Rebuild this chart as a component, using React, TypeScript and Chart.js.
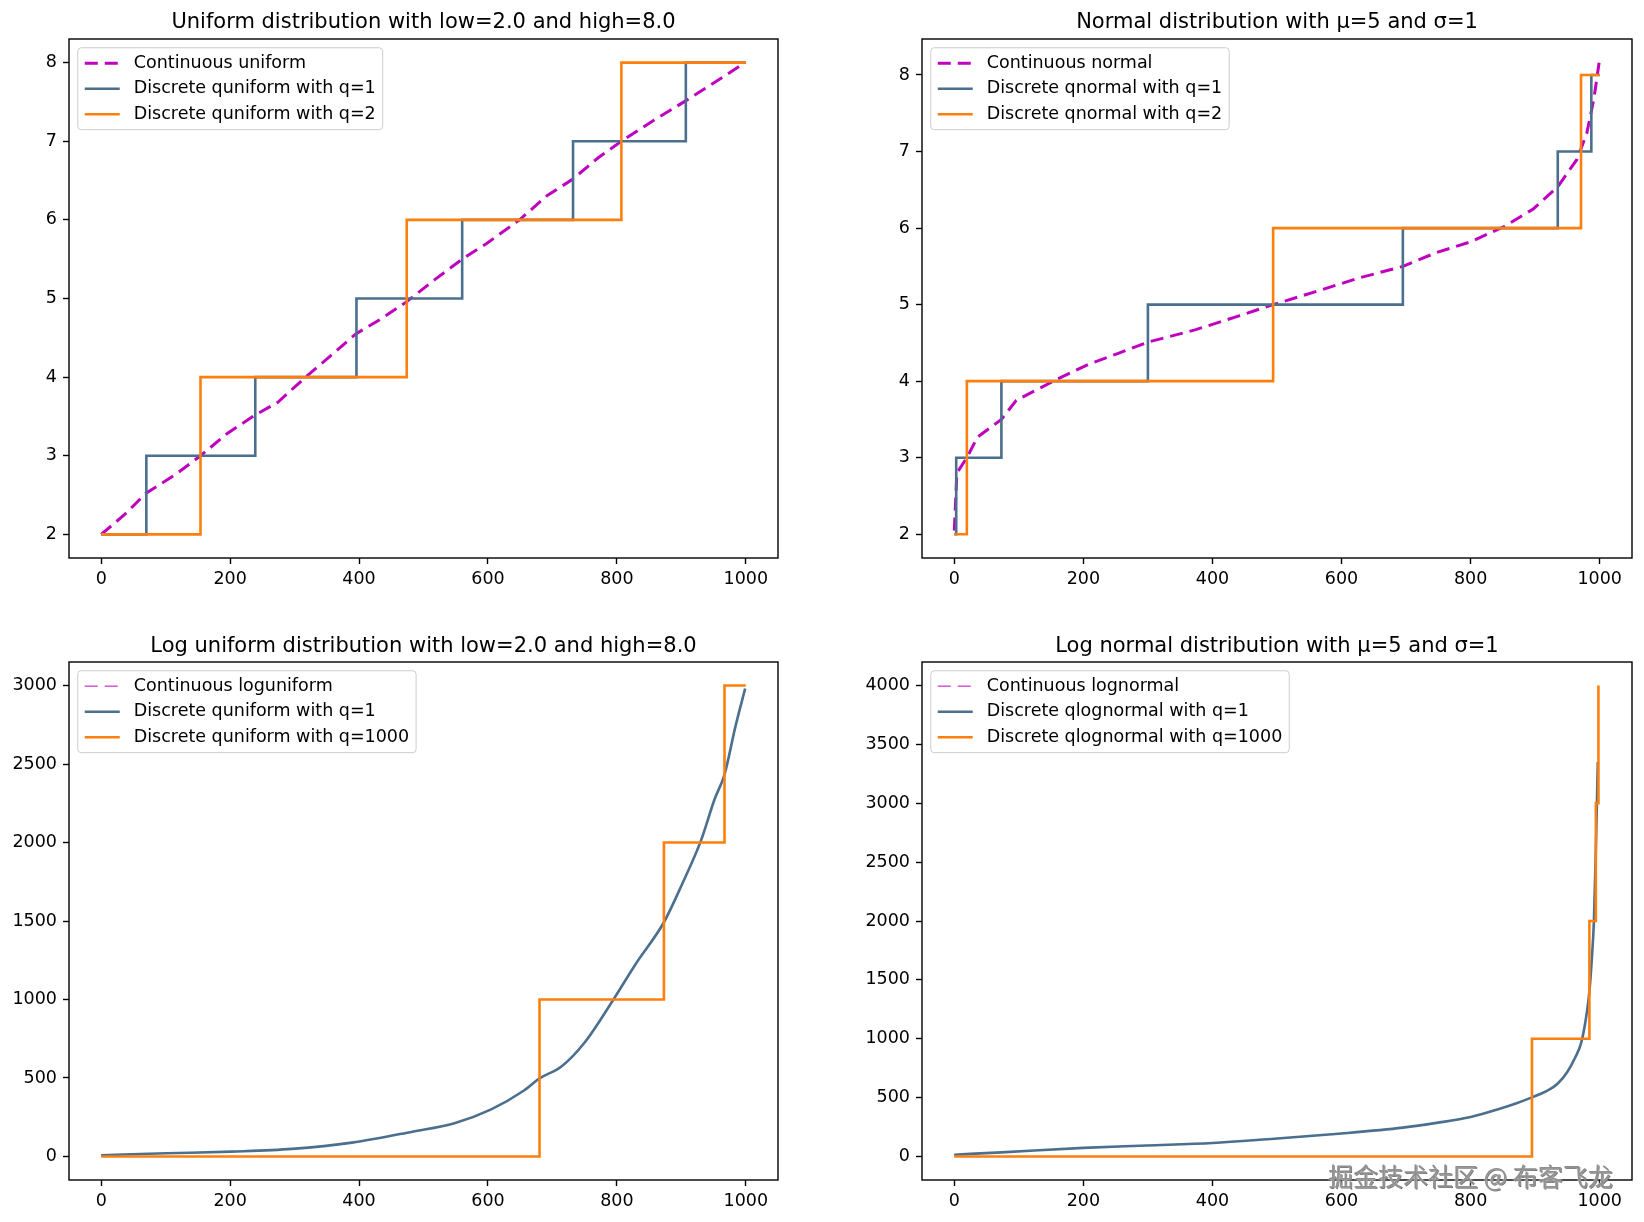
import React, { useEffect, useRef } from 'react';
import { Chart, registerables } from 'chart.js';

Chart.register(...registerables);

const FONT = '"DejaVu Sans", "Liberation Sans", sans-serif';
const MAGENTA = '#bf00bf';
const BLUE = '#4b6f8e';
const ORANGE = '#ff7f0e';

// ---------- shared ticks ----------
const xTicks = [0, 200, 400, 600, 800, 1000];
const yTicksSmall = [2, 3, 4, 5, 6, 7, 8];
const yTicksLogUniform = [0, 500, 1000, 1500, 2000, 2500, 3000];
const yTicksLogNormal = [0, 500, 1000, 1500, 2000, 2500, 3000, 3500, 4000];

// ---------- Uniform (low=2, high=8) ----------
const uniformX = [0, 36, 69, 115, 154, 195, 239, 274, 317, 353, 395, 432, 474, 519, 560, 598, 649, 692, 732, 771, 807, 858, 906, 952, 999];
const uniformCont = [2.0, 2.25, 2.52, 2.76, 3.0, 3.28, 3.52, 3.68, 4.0, 4.25, 4.55, 4.73, 4.96, 5.25, 5.5, 5.7, 6.0, 6.31, 6.52, 6.79, 7.0, 7.27, 7.51, 7.75, 8.0];
const uniformQ1X = [0, 70, 239, 396, 560, 732, 907, 1000];
const uniformQ1Y = [2, 3, 4, 5, 6, 7, 8, 8];
const uniformQ2X = [0, 154, 474, 807, 1000];
const uniformQ2Y = [2, 4, 6, 8, 8];

// ---------- Normal (mu=5, sigma=1) ----------
const normalX = [0, 4, 19.5, 36, 73, 96, 163, 208, 253, 300, 373, 440, 494, 560, 628, 695, 747, 800, 852, 897, 935, 965, 980, 991, 999];
const normalCont = [2.05, 2.8, 3.0, 3.27, 3.5, 3.75, 4.04, 4.22, 4.36, 4.51, 4.67, 4.85, 5.0, 5.17, 5.35, 5.5, 5.68, 5.82, 6.02, 6.25, 6.54, 6.9, 7.24, 7.69, 8.16];
const normalQ1X = [0, 3, 73, 300, 695, 935, 987, 1000];
const normalQ1Y = [2, 3, 4, 5, 6, 7, 8, 8];
const normalQ2X = [0, 19.5, 494, 971, 1000];
const normalQ2Y = [2, 4, 6, 8, 8];

// ---------- Log uniform (low=2, high=8) ----------
const logUniformX = [0, 101, 202, 296, 389, 483, 548, 605, 656, 680, 714, 750, 793, 829, 873, 901, 930, 952, 967, 984, 999];
const logUniformY = [8, 20, 31, 48, 88, 158, 212, 300, 420, 497, 573, 726, 989, 1225, 1492, 1733, 2007, 2280, 2433, 2740, 2980];
const logUniformQ1000X = [0, 680, 873, 967, 1000];
const logUniformQ1000Y = [0, 1000, 2000, 3000, 3000];

// ---------- Log normal (mu=5, sigma=1) ----------
const logNormalX = [0, 73, 200, 298, 400, 485, 600, 695, 747, 800, 845, 870, 895, 915, 935, 950, 962, 971, 978, 984, 988, 991, 994, 997];
const logNormalY = [15, 35, 73, 93, 114, 146, 195, 245, 285, 335, 405, 450, 502, 548, 620, 720, 840, 960, 1150, 1400, 1700, 2000, 2600, 3350];
const logNormalQ1000X = [0, 895, 984, 994, 998];
const logNormalQ1000Y = [0, 1000, 2000, 3000, 4000];

const pts = (xs: number[], ys: number[]) => xs.map((x, i) => ({ x, y: ys[i] }));

const framePlugin = {
  id: 'mplFrame',
  afterDatasetsDraw(chart: any) {
    const { ctx, chartArea: a } = chart;
    ctx.save();
    ctx.strokeStyle = '#000';
    ctx.lineWidth = 1.4;
    ctx.strokeRect(a.left, a.top, a.right - a.left, a.bottom - a.top);
    ctx.restore();
  },
};

const legendPlugin = {
  id: 'mplLegend',
  afterDraw(chart: any) {
    const { ctx, chartArea: a } = chart;
    const ds = chart.data.datasets;
    const fs = 17.5;
    ctx.save();
    ctx.font = `${fs}px ${FONT}`;
    const textW = Math.max(...ds.map((d: any) => ctx.measureText(d.label).width));
    const pad = 7, handleLen = 35, handleGap = 14, rowH = 16.8, rowGap = 8.75;
    const x0 = a.left + 8.75, y0 = a.top + 8.75;
    const w = pad + handleLen + handleGap + textW + pad;
    const h = pad * 2 + ds.length * rowH + (ds.length - 1) * rowGap;
    ctx.beginPath();
    ctx.roundRect(x0, y0, w, h, 3.5);
    ctx.fillStyle = 'rgba(255,255,255,0.8)';
    ctx.fill();
    ctx.strokeStyle = '#cccccc';
    ctx.lineWidth = 1;
    ctx.stroke();
    ds.forEach((d: any, i: number) => {
      const cy = y0 + pad + i * (rowH + rowGap) + rowH / 2;
      ctx.beginPath();
      ctx.setLineDash(d.borderDash || []);
      ctx.lineWidth = d.borderWidth;
      ctx.strokeStyle = d.borderColor;
      ctx.moveTo(x0 + pad, cy);
      ctx.lineTo(x0 + pad + handleLen, cy);
      ctx.stroke();
      ctx.setLineDash([]);
      ctx.fillStyle = '#000';
      ctx.textBaseline = 'middle';
      ctx.textAlign = 'left';
      ctx.fillText(d.label, x0 + pad + handleLen + handleGap, cy);
    });
    ctx.restore();
  },
};

type PanelCfg = {
  left: number;
  top: number;
  title: string;
  titlePadTop: number;
  titlePadBottom: number;
  yWidth: number;
  xHeight: number;
  padRight: number;
  yMin: number;
  yMax: number;
  yTicks: number[];
  contWidth: number;
  smooth: boolean;
  labels: string[];
  cont: { x: number; y: number }[];
  q1: { x: number; y: number }[];
  q1Stepped: boolean;
  q2: { x: number; y: number }[];
};

function buildConfig(c: PanelCfg): any {
  const tickFont = { family: FONT, size: 17.5 };
  const grid = { display: true, drawOnChartArea: false, drawTicks: true, tickLength: 6, tickWidth: 1.4, tickColor: '#000' };
  const curveMode = c.smooth ? { cubicInterpolationMode: 'monotone' } : { tension: 0 };
  return {
    type: 'line',
    data: {
      datasets: [
        { label: c.labels[0], data: c.cont, borderColor: MAGENTA, borderWidth: c.contWidth, borderDash: [13, 7], pointRadius: 0, fill: false, ...curveMode, order: 3 },
        { label: c.labels[1], data: c.q1, borderColor: BLUE, borderWidth: 2.6, stepped: c.q1Stepped ? 'before' : false, pointRadius: 0, fill: false, ...curveMode, order: 2 },
        { label: c.labels[2], data: c.q2, borderColor: ORANGE, borderWidth: 2.6, stepped: 'before', pointRadius: 0, fill: false, tension: 0, order: 1 },
      ],
    },
    options: {
      animation: false,
      responsive: false,
      events: [],
      layout: { padding: { left: 0, right: c.padRight, top: 0, bottom: 0 } },
      plugins: {
        legend: { display: false },
        tooltip: { enabled: false },
        title: {
          display: true,
          text: c.title,
          fullSize: false,
          color: '#000',
          font: { family: FONT, size: 21, weight: 'normal', lineHeight: 1.2 },
          padding: { top: c.titlePadTop, bottom: c.titlePadBottom },
        },
      },
      scales: {
        x: {
          type: 'linear',
          min: -50,
          max: 1050,
          afterBuildTicks: (s: any) => { s.ticks = xTicks.map((v) => ({ value: v })); },
          afterFit: (s: any) => { s.height = c.xHeight; },
          ticks: { callback: (v: any) => String(v), font: tickFont, color: '#000', padding: 5, maxRotation: 0, autoSkip: false },
          grid,
          border: { display: false },
        },
        y: {
          type: 'linear',
          min: c.yMin,
          max: c.yMax,
          afterBuildTicks: (s: any) => { s.ticks = c.yTicks.map((v) => ({ value: v })); },
          afterFit: (s: any) => { s.width = c.yWidth; },
          ticks: { callback: (v: any) => String(v), font: tickFont, color: '#000', padding: 6, autoSkip: false },
          grid,
          border: { display: false },
        },
      },
    },
    plugins: [framePlugin, legendPlugin],
  };
}

const panels: PanelCfg[] = [
  {
    left: 0, top: 0,
    title: 'Uniform distribution with low=2.0 and high=8.0',
    titlePadTop: 10.4, titlePadBottom: 3.4, yWidth: 69, xHeight: 53, padRight: 44,
    yMin: 1.7, yMax: 8.3, yTicks: yTicksSmall, contWidth: 3, smooth: false,
    labels: ['Continuous uniform', 'Discrete quniform with q=1', 'Discrete quniform with q=2'],
    cont: pts(uniformX, uniformCont), q1: pts(uniformQ1X, uniformQ1Y), q1Stepped: true, q2: pts(uniformQ2X, uniformQ2Y),
  },
  {
    left: 822, top: 0,
    title: 'Normal distribution with μ=5 and σ=1',
    titlePadTop: 10.4, titlePadBottom: 3.4, yWidth: 100, xHeight: 53, padRight: 12,
    yMin: 1.69, yMax: 8.47, yTicks: yTicksSmall, contWidth: 3, smooth: false,
    labels: ['Continuous normal', 'Discrete qnormal with q=1', 'Discrete qnormal with q=2'],
    cont: pts(normalX, normalCont), q1: pts(normalQ1X, normalQ1Y), q1Stepped: true, q2: pts(normalQ2X, normalQ2Y),
  },
  {
    left: 0, top: 611,
    title: 'Log uniform distribution with low=2.0 and high=8.0',
    titlePadTop: 22.7, titlePadBottom: 3.1, yWidth: 69, xHeight: 42, padRight: 44,
    yMin: -150, yMax: 3150, yTicks: yTicksLogUniform, contWidth: 1, smooth: true,
    labels: ['Continuous loguniform', 'Discrete quniform with q=1', 'Discrete quniform with q=1000'],
    cont: pts(logUniformX, logUniformY), q1: pts(logUniformX, logUniformY), q1Stepped: false, q2: pts(logUniformQ1000X, logUniformQ1000Y),
  },
  {
    left: 822, top: 611,
    title: 'Log normal distribution with μ=5 and σ=1',
    titlePadTop: 22.7, titlePadBottom: 3.1, yWidth: 100, xHeight: 42, padRight: 12,
    yMin: -200, yMax: 4200, yTicks: yTicksLogNormal, contWidth: 1, smooth: true,
    labels: ['Continuous lognormal', 'Discrete qlognormal with q=1', 'Discrete qlognormal with q=1000'],
    cont: pts(logNormalX, logNormalY), q1: pts(logNormalX, logNormalY), q1Stepped: false, q2: pts(logNormalQ1000X, logNormalQ1000Y),
  },
];

function Panel({ cfg }: { cfg: PanelCfg }) {
  const ref = useRef<HTMLCanvasElement | null>(null);
  useEffect(() => {
    if (!ref.current) return;
    const chart = new Chart(ref.current, buildConfig(cfg));
    return () => chart.destroy();
  }, [cfg]);
  return (
    <canvas
      ref={ref}
      width={822}
      height={611}
      style={{ position: 'absolute', left: cfg.left, top: cfg.top, width: 822, height: 611, display: 'block' }}
    />
  );
}

export default function App() {
  return (
    <div style={{ position: 'absolute', left: 0, top: 0, width: 1644, height: 1222, background: '#fff', overflow: 'hidden' }}>
      {panels.map((p, i) => (
        <Panel key={i} cfg={p} />
      ))}
      <div
        style={{
          position: 'absolute',
          left: 1328,
          top: 1163,
          fontFamily: '"Noto Sans CJK SC", sans-serif',
          fontSize: 25,
          lineHeight: '25px',
          color: '#8f8f8f',
          whiteSpace: 'nowrap',
          textShadow: '0 0 2px #ffffff, 1px 1px 0 #5a5a5a',
        }}
      >
        掘金技术社区 @ 布客飞龙
      </div>
    </div>
  );
}
